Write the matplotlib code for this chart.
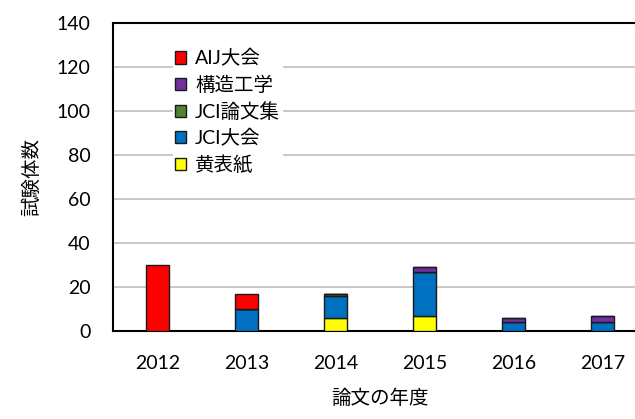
import matplotlib
matplotlib.use('Agg')
import matplotlib.pyplot as plt
import numpy as np

plt.rcParams['font.family'] = ['Lato', 'Noto Sans CJK JP', 'DejaVu Sans']

# データ (下から順に積み上げ)
years = ['2012', '2013', '2014', '2015', '2016', '2017']
kihyoshi = [0, 0, 6, 7, 0, 0]       # 黄表紙
jci_taikai = [0, 10, 10, 20, 4, 4]  # JCI大会
jci_ronbun = [0, 0, 1, 0, 0, 0]     # JCI論文集
kozo = [0, 0, 0, 2, 2, 3]           # 構造工学
aij = [30, 7, 0, 0, 0, 0]           # AIJ大会

series = [
    ('黄表紙', kihyoshi, '#FFFF00'),
    ('JCI大会', jci_taikai, '#0070C0'),
    ('JCI論文集', jci_ronbun, '#548235'),
    ('構造工学', kozo, '#7030A0'),
    ('AIJ大会', aij, '#FF0000'),
]

fig = plt.figure(figsize=(6.35, 4.19), dpi=100)
ax = fig.add_axes([0.178, 0.21, 0.841, 0.736])

x = np.arange(len(years))
bottom = np.zeros(len(years))
handles = []
for name, vals, col in series:
    vals = np.array(vals, dtype=float)
    b = ax.bar(x, vals, 0.255, bottom=bottom, color=col, edgecolor='#1a1a1a',
               linewidth=1.0, label=name, zorder=3)
    handles.append(b)
    bottom += vals

ax.set_xlim(-0.5, len(years) - 0.5)
ax.set_ylim(0, 140)
ax.set_yticks(range(0, 141, 20))
ax.set_xticks(x)
ax.set_xticklabels(years)
ax.tick_params(axis='both', length=0, labelsize=14)
ax.tick_params(axis='y', pad=16)
ax.tick_params(axis='x', pad=17)

ax.yaxis.grid(True, color='#BFBFBF', linewidth=1.2, zorder=0)
ax.set_axisbelow(True)
for s in ['top', 'left', 'bottom']:
    ax.spines[s].set_color('black')
    ax.spines[s].set_linewidth(1.5)
ax.spines['right'].set_visible(False)

ax.set_ylabel('試験体数', fontsize=14, labelpad=12)
ax.set_xlabel('論文の年度', fontsize=14, labelpad=12)

leg = ax.legend(handles[::-1], [s[0] for s in series][::-1], loc='upper left',
                bbox_to_anchor=(0.112, 0.92), frameon=True, fontsize=14,
                handlelength=0.6, handleheight=0.6, handletextpad=0.45,
                labelspacing=0.42, borderpad=0.1, borderaxespad=0)
leg.get_frame().set_edgecolor('white')
leg.get_frame().set_facecolor('white')
leg.get_frame().set_alpha(1)
leg.set_zorder(5)

fig.savefig('out.png', dpi=100)
